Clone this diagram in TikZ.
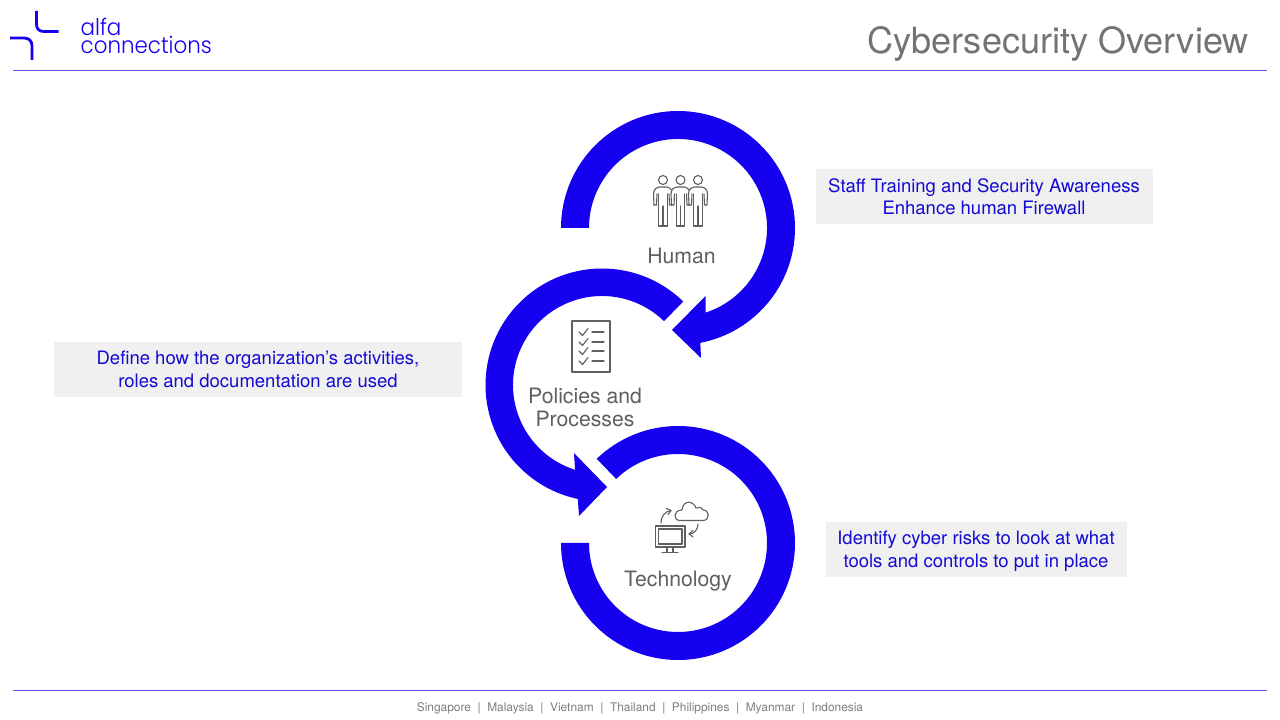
\documentclass[tikz,border=0pt]{standalone}
\usepackage{fontspec}
\setmainfont{TeX Gyre Heros}
\newfontfamily\logofont{Poppins Light}
\definecolor{ringblue}{RGB}{22,0,240}
\definecolor{textblue}{RGB}{20,10,210}
\definecolor{rulecol}{RGB}{90,80,235}
\definecolor{boxgrey}{RGB}{240,240,240}
\definecolor{greytext}{RGB}{95,95,95}
\definecolor{titlegrey}{RGB}{115,115,115}
\definecolor{footgrey}{RGB}{125,125,125}
\definecolor{icongrey}{RGB}{95,95,95}
\tikzset{
  x=1pt,y=1pt,
  ring/.style={fill=ringblue,draw=none},
  rulebar/.style={draw=rulecol,line width=1pt},
  notebox/.style={fill=boxgrey,draw=none},
  notetext/.style={text=textblue,font=\fontsize{18.5}{22.6}\selectfont,align=center,inner sep=0pt},
  steplabel/.style={text=greytext,font=\fontsize{21.2}{23}\selectfont,align=center,inner sep=0pt},
  icon/.style={draw=icongrey,line width=1.1pt,line join=round,line cap=round,fill=none},
  logostroke/.style={draw=ringblue,line width=2.8pt,line cap=butt},
  logotext/.style={anchor=base west,inner sep=0pt,text=ringblue,xscale=0.93,font=\logofont\fontsize{23}{23}\selectfont}
}
\begin{document}
\begin{tikzpicture}
\useasboundingbox (0,0) rectangle (1280,720);
\fill[white] (0,0) rectangle (1280,720);
% rules
\coordinate (ruleTL) at (13,649); \coordinate (ruleTR) at (1267,649);
\coordinate (ruleBL) at (13,29); \coordinate (ruleBR) at (1267,29);
\draw[rulebar] (ruleTL) -- (ruleTR);
\draw[rulebar] (ruleBL) -- (ruleBR);
% logo
\draw[logostroke] (36.5,709) -- (36.5,696) .. controls (36.5,691) and (39,688.5) .. (44,688.5) -- (58.5,688.5);
\draw[logostroke] (10,682) -- (24,682) .. controls (29,682) and (32,679) .. (32,674) -- (32,660);
\node[logotext] (logoa) at (80.5,684) {alfa};
\node[logotext] (logob) at (80.5,666.5) {connections};
% title
\node[anchor=east,inner sep=0pt,text=titlegrey,font=\fontsize{36.1}{40}\selectfont] (title) at (1249,676) {Cybersecurity Overview};
% footer
\node[inner sep=0pt,text=footgrey,font=\fontsize{11.9}{14}\selectfont] (footer) at (640,12) {Singapore \ | \ Malaysia \ | \ Vietnam \ | \ Thailand \ | \ Philippines \ | \ Myanmar \ | \ Indonesia};
% rings
\fill[ring] ([shift={(678,492)}]180:117) arc[start angle=180,end angle=-79,radius=117]
  -- (701,362) -- (672,390) -- (705.5,424) -- ([shift={(678,492)}]-72:89)
  arc[start angle=-72,end angle=180,radius=89] -- cycle;
\fill[ring] ([shift={(602,335)}]45.8:116.5) arc[start angle=45.8,end angle=258,radius=116.5]
  -- (579,204) -- (607,233) -- (574,267) -- ([shift={(602,335)}]252.4:89)
  arc[start angle=252.4,end angle=45.8,radius=89] -- cycle;
\fill[ring] ([shift={(678,177)}]180:117) arc[start angle=180,end angle=494,radius=117]
  -- ([shift={(678,177)}]494:89) arc[start angle=494,end angle=180,radius=89] -- cycle;
% note boxes
\fill[notebox] (816,496) rectangle (1153,551);
\fill[notebox] (54,323) rectangle (462,378);
\fill[notebox] (826,143) rectangle (1127,198);
\node[notetext] (note1) at (984,523.3) {Staff Training and Security Awareness\\Enhance human Firewall};
\node[notetext] (note2) at (258,350.5) {Define how the organization’s activities,\\roles and documentation are used};
\node[notetext] (note3) at (976,168.5) {Identify cyber risks to look at what\\tools and controls to put in place};
% labels
\node[steplabel] (human) at (681.5,464.5) {Human};
\node[steplabel] (policies) at (585,312.5) {Policies and\\Processes};
\node[steplabel] (tech) at (678,138.5) {Technology};
% icons (pixel coordinates, y down)
\begin{scope}[shift={(0,720)},yscale=-1]
  \foreach \hx in {663,680.5,698}{
    \begin{scope}[shift={(\hx,180)}]
      \draw[icon] (0,0) circle[radius=4.5];
      \draw[icon,fill=white] (-9,25) -- (-9.5,14) .. controls (-9.5,9) and (-6,7) .. (-3,7) -- (3,7) .. controls (6,7) and (9.5,9) .. (9.5,14) -- (9,25) -- (6.5,25) -- (6,14);
      \draw[icon] (-9,25) -- (-6.5,25) -- (-6,14);
      \draw[icon] (-4.3,14) -- (-4.3,46) -- (4.3,46) -- (4.3,14);
      \draw[icon] (0,26) -- (0,46);
    \end{scope}
  }
  \draw[icon] (572,321) rectangle (610,372);
  \foreach \cy in {332,342,351,361}{
    \draw[icon] (579,\cy) -- (582.5,\cy+3.5) -- (588,\cy-3.5);
    \draw[icon] (592,\cy) -- (604,\cy);
  }
  \draw[icon,line width=1.3pt] (655.5,526) rectangle (685,547);
  \draw[icon] (658.5,529) rectangle (682,544);
  \draw[icon] (667,547) -- (667,552) (673,547) -- (673,552) (662,552.5) -- (678,552.5);
  \draw[icon] (680,520.5) -- (703,520.5) .. controls (710,520.5) and (710,510) .. (703,510)
     .. controls (702,507) and (698,507) .. (696,508) .. controls (693,500) and (683,500) .. (682,510)
     .. controls (673,510) and (673,520.5) .. (680,520.5) -- cycle;
  \draw[icon] (661,523) .. controls (661,516) and (665,511.5) .. (671,510.5);
  \draw[icon] (666.5,508.5) -- (671,510.5) -- (668,514.5);
  \draw[icon] (698,524) .. controls (698,530) and (694,534) .. (689,534);
  \draw[icon] (693,530.5) -- (689,534) -- (693,537);
\end{scope}
\end{tikzpicture}
\end{document}
